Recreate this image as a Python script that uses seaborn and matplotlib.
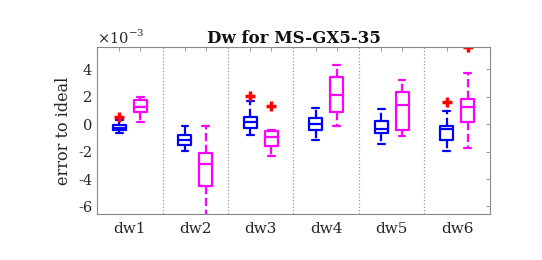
import numpy as np
import pandas as pd
import matplotlib
matplotlib.use("Agg")
import matplotlib.pyplot as plt
import seaborn as sns

# ---- data (units of 1e-3) ----
groups = ["dw1", "dw2", "dw3", "dw4", "dw5", "dw6"]

blue_min = [-0.65, -1.94, -0.78, -1.14, -1.46, -1.99]
blue_q1 = [-0.42, -1.50, -0.27, -0.41, -0.68, -1.16]
blue_med = [-0.30, -1.15, 0.14, 0.03, -0.33, -0.39]
blue_q3 = [-0.08, -0.78, 0.51, 0.45, 0.22, -0.17]
blue_max = [0.30, -0.17, 1.68, 1.16, 1.12, 0.99]
blue_out = [[0.55], [], [2.06], [], [], [1.65]]

mag_min = [0.15, -6.60, -2.30, -0.17, -0.90, -1.75]
mag_q1 = [0.87, -4.49, -1.63, 0.88, -0.41, 0.19]
mag_med = [1.27, -2.89, -0.95, 2.13, 1.39, 1.28]
mag_q3 = [1.76, -2.10, -0.48, 3.46, 2.33, 1.80]
mag_max = [1.95, -0.10, -0.40, 4.33, 3.25, 3.71]
mag_out = [[], [], [1.30], [], [], [5.60]]

series = ["s1", "s2"]
colors = {"s1": "#0000ff", "s2": "#ff00ff"}

rows = []
for name, mn, q1, md, q3, mx, outs in [
    ("s1", blue_min, blue_q1, blue_med, blue_q3, blue_max, blue_out),
    ("s2", mag_min, mag_q1, mag_med, mag_q3, mag_max, mag_out),
]:
    for i, g in enumerate(groups):
        tail = outs[i] if outs[i] else [mx[i]]
        vals = [mn[i], q1[i], q1[i], md[i], md[i], q3[i], q3[i], mx[i]] + tail
        for v in vals:
            rows.append({"group": g, "series": name, "value": v})
df = pd.DataFrame(rows)

# ---- plot ----
sns.set_style("white")
serif = ["DejaVu Serif"]
plt.rcParams["font.family"] = serif

fig = plt.figure(figsize=(5.42, 2.6), dpi=100)
ax = fig.add_axes([0.179, 0.177, 0.725, 0.641])

sns.boxplot(
    data=df, x="group", y="value", hue="series", order=groups,
    hue_order=series, palette=colors, fill=False, width=0.64, gap=0.375,
    linewidth=1.6, whis=1.5, legend=False, ax=ax,
    whiskerprops=dict(linestyle="--"),
    flierprops=dict(marker="+", markeredgecolor="red", markerfacecolor="red",
                    markersize=7, markeredgewidth=2.5),
)

for k in range(len(groups) - 1):
    ax.axvline(k + 0.5, color="#999999", linestyle=":", linewidth=0.9, zorder=0)

ax.set_xlim(-0.5, len(groups) - 0.5)
ax.set_ylim(-6.55, 5.6)
ax.set_yticks([-6, -4, -2, 0, 2, 4])
ax.set_yticklabels(["-6", "-4", "-2", "0", "2", "4"])

pos = []
for k in range(len(groups)):
    pos += [k - 0.16, k + 0.16]
ax.set_xticks(pos)
ax.set_xticklabels([""] * len(pos))
ax.set_xticks(range(len(groups)), groups, minor=True)
ax.tick_params(axis="x", which="minor", length=0, pad=6, labelsize=11,
               labelcolor="#262626")
ax.tick_params(axis="both", which="major", direction="in", length=3,
               width=0.6, color="#888888", top=True, right=True,
               labelsize=10.5, labelcolor="#262626")
ax.set_xlabel("")
ax.set_ylabel("error to ideal", fontsize=11.5, color="#262626")

for s in ax.spines.values():
    s.set_visible(True)
    s.set_color("#888888")
    s.set_linewidth(0.8)

ax.set_title("Dw for MS-GX5-35", fontsize=12, fontweight="bold",
             color="#111111", pad=3)
ax.text(0.0, 1.01, "×10$^{\\mathregular{-3}}$", transform=ax.transAxes,
        fontsize=10.5, color="#262626", ha="left", va="bottom")

fig.savefig("out.png", dpi=100)
